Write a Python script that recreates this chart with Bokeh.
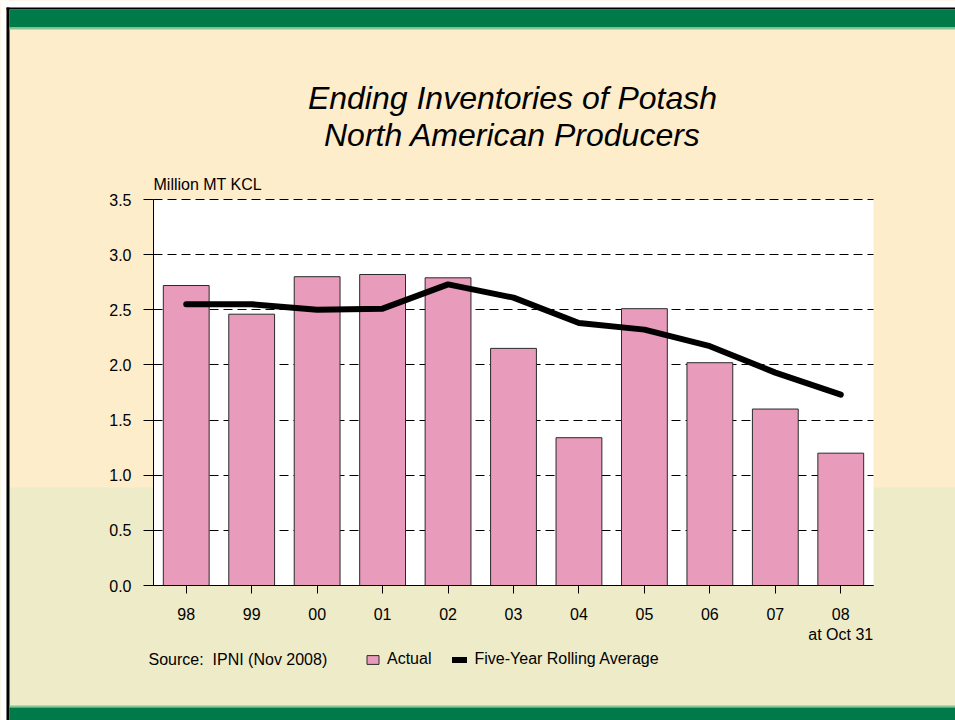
from bokeh.plotting import figure
from bokeh.models import (Range1d, FixedTicker, NumeralTickFormatter,
                          Label, BoxAnnotation, Legend, LegendItem)
from bokeh.embed import file_html
from bokeh.resources import INLINE

# ---------------- data ----------------
years = ["98", "99", "00", "01", "02", "03", "04", "05", "06", "07", "08"]
year_tick_labels = ["98", "99", "00", "01", "02", "03", "04", "05", "06", "07", "08\nat Oct 31"]
actual = [2.72, 2.46, 2.80, 2.82, 2.79, 2.15, 1.34, 2.51, 2.02, 1.60, 1.20]
rolling_avg = [2.55, 2.55, 2.50, 2.51, 2.73, 2.61, 2.38, 2.32, 2.17, 1.93, 1.73]
y_ticks = [0.0, 0.5, 1.0, 1.5, 2.0, 2.5, 3.0, 3.5]
title_lines = ["Ending Inventories of Potash", "North American Producers"]
unit_text = "Million MT KCL"
source_text = "Source:\u00a0 IPNI (Nov 2008)"
series_names = ["Actual", "Five-Year Rolling Average"]

# ---------------- style / layout ----------------
FONT = "Liberation Sans"
CREAM = "#FDEDCB"
OLIVE = "#EEEBC9"
GREEN = "#007A48"
LIGHT_GREEN = "#86C596"
PINK = "#E89BBA"

W, H = 955, 720
FL, FR, FT, FB = 153, 873, 199, 585     # plot-area edges in page px

n = len(years)
pos = list(range(n))                    # category positions on the x scale
cat_px = (FR - FL) / n
unit_px = (FB - FT) / (y_ticks[-1] - y_ticks[0])
x_range = Range1d(-0.5 - FL / cat_px, n - 0.5 + (W - FR) / cat_px)
y_range = Range1d(y_ticks[0] - (H - FB) / unit_px, y_ticks[-1] + FT / unit_px)

p = figure(width=W, height=H, x_range=x_range, y_range=y_range,
           output_backend="svg", toolbar_location=None, title_location=None,
           min_border=0, min_border_left=0, min_border_right=0,
           min_border_top=0, min_border_bottom=0,
           border_fill_color=CREAM, background_fill_color=CREAM,
           outline_line_color=None)

def sy(cy):
    return H - cy

def box(l, r, t, b, color):
    p.add_layout(BoxAnnotation(left=l, right=r, top=sy(t), bottom=sy(b),
                               left_units="screen", right_units="screen",
                               top_units="screen", bottom_units="screen",
                               fill_color=color, fill_alpha=1.0, line_color=None,
                               level="image"))

# page decoration
box(0, W, 487, H, OLIVE)
box(0, W, 0, 7, "white")
box(0, 6, 0, H, "white")
box(6, W, 7, 9, "black")
box(6, 9, 7, H, "black")
box(9, W, 9, 27, GREEN)
box(9, W, 27, 29, LIGHT_GREEN)
box(9, W, 705, 707, LIGHT_GREEN)
box(9, W, 707, H, GREEN)

# white plot area (data units)
p.add_layout(BoxAnnotation(left=-0.5, right=n - 0.5, bottom=y_ticks[0], top=y_ticks[-1],
                           fill_color="white", fill_alpha=1.0, line_color=None,
                           level="image"))

# ---------------- glyphs ----------------
bars = p.vbar(x=pos, top=actual, width=0.7, fill_color=PINK,
              line_color="#2a2a2a", line_width=1)
avg_line = p.line(x=pos, y=rolling_avg, line_width=6, line_color="black",
                  line_cap="round", line_join="round")

# ---------------- axes / grid ----------------
p.xgrid.grid_line_color = None
yg = p.ygrid[0]
yg.grid_line_color = "black"
yg.grid_line_dash = "9 5"
yg.grid_line_width = 1
yg.ticker = FixedTicker(ticks=y_ticks)
if "cross_bounds" in yg.properties():
    yg.cross_bounds = (-0.5, n - 0.5)

xa, ya = p.xaxis[0], p.yaxis[0]
for ax in (xa, ya):
    ax.axis_line_color = "black"
    ax.major_tick_line_color = "black"
    ax.major_tick_in = 0
    ax.minor_tick_line_color = None
    ax.major_label_text_font = FONT
    ax.major_label_text_font_size = "16px"
    ax.major_label_text_color = "black"

xa.ticker = FixedTicker(ticks=pos)
xa.major_label_overrides = {i: lab for i, lab in zip(pos, year_tick_labels)}
xa.fixed_location = y_ticks[0]
xa.bounds = (-0.5, n - 0.5)
xa.major_tick_out = 8
xa.major_label_standoff = 12

ya.ticker = FixedTicker(ticks=y_ticks)
ya.formatter = NumeralTickFormatter(format="0.0")
ya.fixed_location = -0.5
ya.bounds = (y_ticks[0], y_ticks[-1])
ya.major_tick_out = 10
ya.major_label_standoff = 12

# ---------------- texts ----------------
title_x = (FL + FR) / 2 - 1
for txt, base in zip(title_lines, [97.5, 134.5]):
    p.add_layout(Label(x=title_x, y=sy(base), x_units="screen", y_units="screen",
                       text=txt, text_font=FONT, text_font_size="32px",
                       text_font_style="italic", text_align="center",
                       text_baseline="alphabetic", text_color="black"))

p.add_layout(Label(x=FL, y=sy(184), x_units="screen", y_units="screen",
                   text=unit_text, text_font=FONT, text_font_size="16px",
                   text_align="left", text_baseline="alphabetic", text_color="black"))

p.add_layout(Label(x=148, y=sy(659), x_units="screen", y_units="screen",
                   text=source_text, text_font=FONT, text_font_size="16px",
                   text_align="left", text_baseline="alphabetic", text_color="black"))

legend = Legend(items=[LegendItem(label=series_names[0], renderers=[bars]),
                       LegendItem(label=series_names[1], renderers=[avg_line])],
                location=(365, sy(668)), orientation="horizontal",
                glyph_width=15, glyph_height=11, label_standoff=7, spacing=21,
                padding=0, margin=0, border_line_color=None,
                background_fill_alpha=0, label_text_font=FONT,
                label_text_font_size="16px", label_text_color="black")
p.add_layout(legend)

open("out.html", "w").write(file_html(p, INLINE))
